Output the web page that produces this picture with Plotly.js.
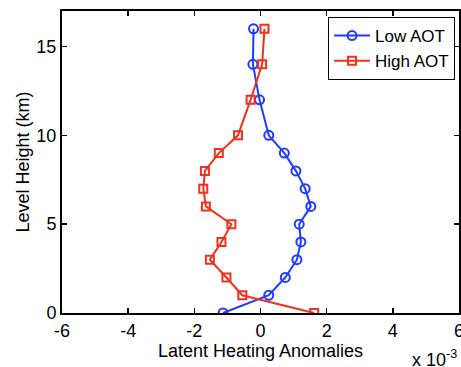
<!DOCTYPE html>
<html>
<head>
<meta charset="utf-8">
<script src="https://cdn.plot.ly/plotly-3.0.1.min.js"></script>
<style>html,body{margin:0;padding:0;background:#fff;}#chart{width:461px;height:367px;}</style>
</head>
<body>
<div id="chart"></div>
<script>
// Level heights (km)
var levels = [0, 1, 2, 3, 4, 5, 6, 7, 8, 9, 10, 12, 14, 16];
// Latent heating anomalies, in units of 1e-3
var lowAOT  = [-1.13, 0.25, 0.75, 1.10, 1.22, 1.17, 1.52, 1.35, 1.07, 0.72, 0.25, -0.03, -0.23, -0.21];
var highAOT = [1.62, -0.55, -1.03, -1.53, -1.18, -0.88, -1.65, -1.73, -1.68, -1.26, -0.68, -0.30, 0.05, 0.12];
var xTicks = [-6, -4, -2, 0, 2, 4, 6];
var yTicks = [0, 5, 10, 15];

var fam = 'Liberation Sans, Arial, sans-serif';
var font = {family: fam, size: 18, color: '#000'};

var traces = [
  {x: lowAOT, y: levels, name: 'Low AOT', type: 'scatter', mode: 'lines+markers',
   line: {color: 'rgb(30,60,255)', width: 2},
   marker: {symbol: 'circle-open', size: 9, color: 'rgb(30,60,255)', line: {width: 2}}},
  {x: highAOT, y: levels, name: 'High AOT', type: 'scatter', mode: 'lines+markers',
   line: {color: 'rgb(240,50,30)', width: 2},
   marker: {symbol: 'square-open', size: 8, color: 'rgb(240,50,30)', line: {width: 2}}}
];

var layout = {
  width: 461, height: 367,
  margin: {l: 62, r: 2, t: 11, b: 54},
  paper_bgcolor: '#fff', plot_bgcolor: '#fff',
  font: font,
  showlegend: true,
  legend: {x: 0.99, y: 0.98, xanchor: 'right', yanchor: 'top',
           bordercolor: '#000', borderwidth: 1, bgcolor: '#fff',
           font: {family: fam, size: 17, color: '#000'},
           tracegroupgap: 0, itemwidth: 36},
  xaxis: {range: [-6, 6], tickvals: xTicks, ticktext: xTicks.map(String),
          ticklabeloverflow: 'allow',
          showgrid: false, zeroline: false, showline: true, linecolor: '#000', linewidth: 2,
          mirror: 'ticks', ticks: 'inside', ticklen: 5, tickwidth: 1.5, tickcolor: '#000',
          tickfont: {family: fam, size: 18},
          title: {text: 'Latent Heating Anomalies', font: {family: fam, size: 18}, standoff: 4}},
  yaxis: {range: [0, 17], tickvals: yTicks, ticktext: yTicks.map(String),
          showgrid: false, zeroline: false, showline: true, linecolor: '#000', linewidth: 2,
          mirror: 'ticks', ticks: 'inside', ticklen: 5, tickwidth: 1.5, tickcolor: '#000',
          tickfont: {family: fam, size: 18},
          title: {text: 'Level Height (km)', font: {family: fam, size: 18}, standoff: 2}},
  annotations: [{text: 'x 10<sup>-3</sup>', xref: 'paper', yref: 'paper', x: 1.0, y: -0.105,
                 xanchor: 'right', yanchor: 'top', showarrow: false,
                 font: {family: fam, size: 18, color: '#000'}}]
};

Plotly.newPlot('chart', traces, layout, {displayModeBar: false, staticPlot: true});
</script>
</body>
</html>
